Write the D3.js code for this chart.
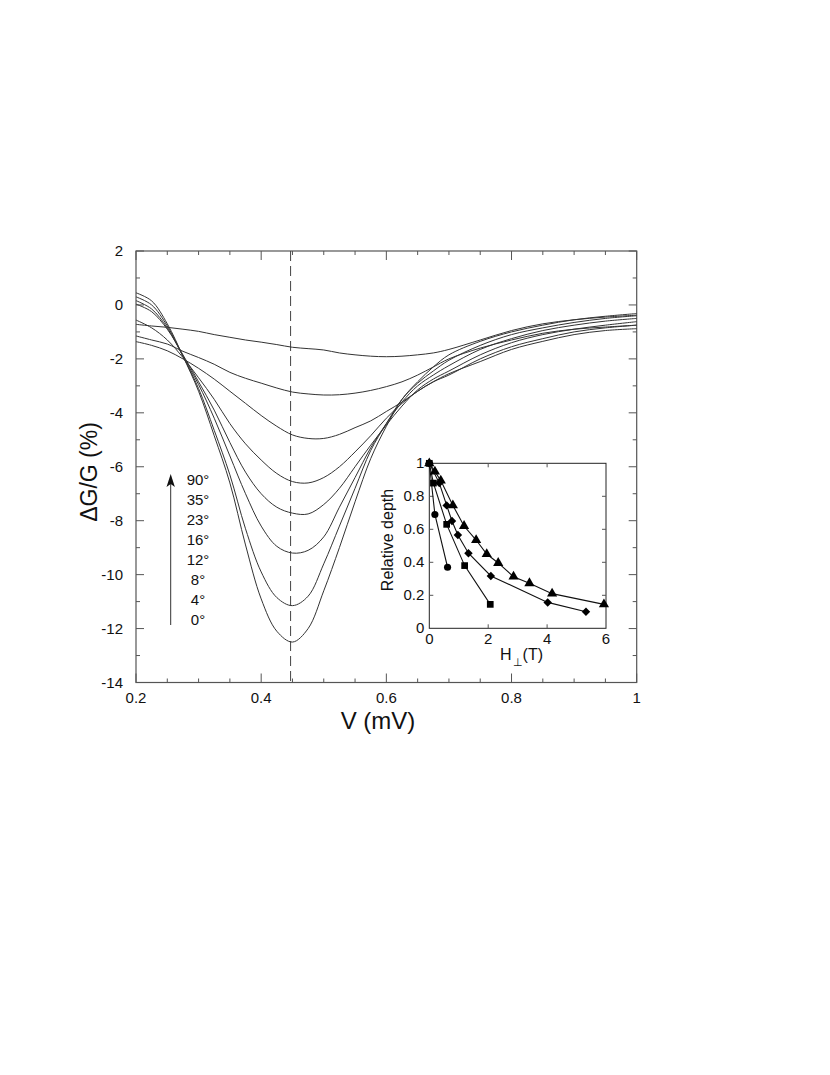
<!DOCTYPE html>
<html>
<head>
<meta charset="utf-8">
<script src="https://cdn.jsdelivr.net/npm/d3@7"></script>
<style>
  body { margin: 0; background: #fff; }
  svg text { font-family: "Liberation Sans", Arial, sans-serif; fill: #111; }
</style>
</head>
<body>
<svg id="chart" width="830" height="1075"></svg>
<script>
// bias voltage samples (mV)
const voltages = [0.2, 0.225, 0.25, 0.275, 0.3, 0.325, 0.35, 0.375, 0.4, 0.425, 0.45, 0.475, 0.5,
  0.525, 0.55, 0.575, 0.6, 0.625, 0.65, 0.675, 0.7, 0.75, 0.8, 0.85, 0.9, 0.95, 1.0];

// dG/G (%) per field angle
const curve0  = [0.45, 0.15, -0.7, -1.9, -3.2, -4.85, -6.6, -8.9, -10.9, -12.1, -12.5, -12.0, -10.6,
  -9.0, -7.3, -5.7, -4.5, -3.5, -2.85, -2.3, -1.85, -1.35, -1.0, -0.75, -0.55, -0.42, -0.32];
const curve4  = [0.3, 0.0, -0.78, -1.9, -3.1, -4.65, -6.3, -8.3, -9.9, -10.85, -11.15, -10.8, -9.6,
  -8.2, -6.8, -5.4, -4.4, -3.5, -2.9, -2.45, -2.05, -1.5, -1.1, -0.85, -0.65, -0.5, -0.4];
const curve8  = [0.16, -0.15, -0.85, -1.9, -2.95, -4.2, -5.6, -7.0, -8.2, -8.95, -9.2, -9.1, -8.6,
  -7.5, -6.4, -5.3, -4.4, -3.6, -3.0, -2.6, -2.25, -1.65, -1.25, -0.95, -0.75, -0.6, -0.5];
const curve12 = [0.03, -0.25, -0.9, -1.85, -2.85, -3.9, -5.1, -6.2, -7.0, -7.5, -7.72, -7.75, -7.4,
  -6.8, -6.0, -5.2, -4.45, -3.75, -3.15, -2.75, -2.45, -1.85, -1.4, -1.1, -0.9, -0.75, -0.62];
const curve16 = [-0.56, -0.85, -1.3, -1.95, -2.7, -3.5, -4.4, -5.15, -5.75, -6.25, -6.55, -6.6, -6.4,
  -6.0, -5.45, -4.85, -4.2, -3.65, -3.2, -2.85, -2.6, -2.0, -1.55, -1.25, -1.0, -0.85, -0.75];
const curve23 = [-1.36, -1.5, -1.7, -2.0, -2.35, -2.75, -3.2, -3.65, -4.1, -4.5, -4.82, -4.95, -4.95,
  -4.8, -4.55, -4.3, -3.95, -3.6, -3.2, -2.85, -2.55, -2.1, -1.65, -1.35, -1.1, -0.95, -0.88];
const curve35 = [-1.15, -1.3, -1.45, -1.72, -1.95, -2.2, -2.5, -2.72, -2.9, -3.08, -3.23, -3.3, -3.34,
  -3.33, -3.27, -3.17, -3.03, -2.85, -2.6, -2.3, -2.0, -1.6, -1.3, -1.05, -0.9, -0.82, -0.75];
const curve90 = [-0.72, -0.78, -0.83, -0.9, -0.98, -1.1, -1.2, -1.3, -1.38, -1.47, -1.57, -1.62, -1.67,
  -1.78, -1.85, -1.9, -1.92, -1.9, -1.85, -1.78, -1.65, -1.3, -0.95, -0.7, -0.55, -0.45, -0.38];

const allCurves = [curve0, curve4, curve8, curve12, curve16, curve23, curve35, curve90];
const angleLabels = ["90°", "35°", "23°", "16°", "12°", "8°", "4°", "0°"];
const dipVoltage = 0.447;

// inset: relative depth vs perpendicular field (T)
const circleH = [0, 0.19, 0.62];
const circleDepth = [1, 0.69, 0.37];
const squareH = [0, 0.14, 0.59, 1.2, 2.07];
const squareDepth = [1, 0.88, 0.63, 0.38, 0.145];
const diamondH = [0, 0.34, 0.59, 0.77, 0.97, 1.33, 2.09, 4.02, 5.32];
const diamondDepth = [1, 0.88, 0.745, 0.65, 0.566, 0.455, 0.317, 0.157, 0.1];
const triangleH = [0, 0.19, 0.39, 0.8, 1.18, 1.59, 1.95, 2.34, 2.86, 3.4, 4.17, 5.93];
const triangleDepth = [1, 0.95, 0.895, 0.745, 0.62, 0.535, 0.45, 0.396, 0.313, 0.273, 0.21, 0.145];

const svg = d3.select("#chart");
const axisColour = "#555";
const lineColour = "#333";

// main plot area
const plotLeft = 136, plotRight = 636.7, plotTop = 251, plotBottom = 682.5;
const x = d3.scaleLinear().domain([0.2, 1]).range([plotLeft, plotRight]);
const y = d3.scaleLinear().domain([-14, 2]).range([plotBottom, plotTop]);

const main = svg.append("g");

// ticks on all four sides, pointing inwards
function drawTicks(g, scale, values, len, orient, pos) {
  values.forEach(function(v) {
    const p = scale(v);
    if (orient === "h") {
      g.append("line").attr("x1", p).attr("x2", p)
        .attr("y1", pos).attr("y2", pos + len)
        .attr("stroke", axisColour).attr("stroke-width", 1);
    } else {
      g.append("line").attr("y1", p).attr("y2", p)
        .attr("x1", pos).attr("x2", pos + len)
        .attr("stroke", axisColour).attr("stroke-width", 1);
    }
  });
}

const xMajor = [0.2, 0.4, 0.6, 0.8, 1];
const xMinor = [0.25, 0.3, 0.35, 0.45, 0.5, 0.55, 0.65, 0.7, 0.75, 0.85, 0.9, 0.95];
const yMajor = [-14, -12, -10, -8, -6, -4, -2, 0, 2];
const yMinor = [-13, -11, -9, -7, -5, -3, -1, 1];

drawTicks(main, x, xMajor, -9, "h", plotBottom);
drawTicks(main, x, xMinor, -4, "h", plotBottom);
drawTicks(main, x, xMajor, 9, "h", plotTop);
drawTicks(main, x, xMinor, 4, "h", plotTop);
drawTicks(main, y, yMajor, 8, "v", plotLeft);
drawTicks(main, y, yMinor, 4, "v", plotLeft);
drawTicks(main, y, yMajor, -8, "v", plotRight);
drawTicks(main, y, yMinor, -4, "v", plotRight);

main.append("rect")
  .attr("x", plotLeft).attr("y", plotTop)
  .attr("width", plotRight - plotLeft).attr("height", plotBottom - plotTop)
  .attr("fill", "none").attr("stroke", axisColour).attr("stroke-width", 1.2);

// tick labels (plain hyphen minus, as in the original)
main.selectAll(".xlab").data(xMajor).enter().append("text")
  .attr("x", d => x(d)).attr("y", plotBottom + 20)
  .attr("text-anchor", "middle").attr("font-size", 15)
  .text(d => String(d));

main.selectAll(".ylab").data(yMajor).enter().append("text")
  .attr("x", plotLeft - 13).attr("y", d => y(d) + 5)
  .attr("text-anchor", "end").attr("font-size", 15)
  .text(d => String(d));

// axis titles
main.append("text")
  .attr("x", 378).attr("y", 729)
  .attr("text-anchor", "middle").attr("font-size", 24)
  .text("V (mV)");

main.append("text")
  .attr("transform", "translate(97,472) rotate(-90)")
  .attr("text-anchor", "middle").attr("font-size", 23)
  .text("ΔG/G (%)");

// dashed marker at the dip position
main.append("line")
  .attr("x1", x(dipVoltage)).attr("x2", x(dipVoltage))
  .attr("y1", plotTop).attr("y2", plotBottom)
  .attr("stroke", "#444").attr("stroke-width", 1)
  .attr("stroke-dasharray", "10,5");

// conductance curves
const line = d3.line()
  .curve(d3.curveCatmullRom.alpha(0.5))
  .x((d, i) => x(voltages[i]))
  .y(d => y(d));

main.selectAll(".curve").data(allCurves).enter().append("path")
  .attr("d", d => line(d))
  .attr("fill", "none")
  .attr("stroke", lineColour)
  .attr("stroke-width", 1);

// angle legend with arrow
const labelY = d3.scaleLinear().domain([0, angleLabels.length - 1]).range([480, 620]);
main.selectAll(".angle").data(angleLabels).enter().append("text")
  .attr("x", 198).attr("y", (d, i) => labelY(i) + 5)
  .attr("text-anchor", "middle").attr("font-size", 15)
  .text(d => d);

main.append("line")
  .attr("x1", 170.7).attr("x2", 170.7)
  .attr("y1", 625).attr("y2", 484)
  .attr("stroke", "#333").attr("stroke-width", 1);
main.append("path")
  .attr("d", "M170.7,474 L166.5,487 L170.7,484 L174.9,487 Z")
  .attr("fill", "#111");

// inset
const iLeft = 429.3, iRight = 606, iTop = 463.3, iBottom = 628.3;
const ix = d3.scaleLinear().domain([0, 6]).range([iLeft, iRight]);
const iy = d3.scaleLinear().domain([0, 1]).range([iBottom, iTop]);
const inset = svg.append("g");

inset.append("rect")
  .attr("x", iLeft).attr("y", iTop)
  .attr("width", iRight - iLeft).attr("height", iBottom - iTop)
  .attr("fill", "#fff").attr("stroke", "#222").attr("stroke-width", 1);

const ixTicks = [0, 2, 4, 6];
const iyTicks = [0, 0.2, 0.4, 0.6, 0.8, 1];
drawTicks(inset, ix, [2, 4], -4, "h", iBottom);
drawTicks(inset, ix, [2, 4], 4, "h", iTop);
drawTicks(inset, iy, [0.2, 0.4, 0.6, 0.8], 4, "v", iLeft);
drawTicks(inset, iy, [0.2, 0.4, 0.6, 0.8], -4, "v", iRight);

inset.selectAll(".ixlab").data(ixTicks).enter().append("text")
  .attr("x", d => ix(d)).attr("y", iBottom + 16)
  .attr("text-anchor", "middle").attr("font-size", 15)
  .text(d => String(d));

inset.selectAll(".iylab").data(iyTicks).enter().append("text")
  .attr("x", iLeft - 5).attr("y", d => iy(d) + 5)
  .attr("text-anchor", "end").attr("font-size", 15)
  .text(d => String(d));

inset.append("text")
  .attr("transform", "translate(393,540) rotate(-90)")
  .attr("text-anchor", "middle").attr("font-size", 16)
  .text("Relative depth");

const hLabel = inset.append("text")
  .attr("x", 500).attr("y", 660).attr("font-size", 16);
hLabel.append("tspan").text("H");
hLabel.append("tspan").attr("font-size", 11).attr("dy", 6).attr("dx", 1).text("⊥");
hLabel.append("tspan").attr("dy", -6).text("(T)");

// diamonds are drawn as squares turned by 45 degrees
const insetSeries = [
  { h: circleH, d: circleDepth, symbol: d3.symbolCircle, size: 40, turn: 0 },
  { h: squareH, d: squareDepth, symbol: d3.symbolSquare, size: 45, turn: 0 },
  { h: diamondH, d: diamondDepth, symbol: d3.symbolSquare, size: 36, turn: 45 },
  { h: triangleH, d: triangleDepth, symbol: d3.symbolTriangle, size: 45, turn: 0 }
];

const insetLine = d3.line().x(d => ix(d[0])).y(d => iy(d[1]));

insetSeries.forEach(function(s) {
  const pts = s.h.map((h, i) => [h, s.d[i]]);
  inset.append("path")
    .attr("d", insetLine(pts))
    .attr("fill", "none").attr("stroke", "#111").attr("stroke-width", 1.1);
  inset.selectAll(null).data(pts).enter().append("path")
    .attr("transform", d => "translate(" + ix(d[0]) + "," + iy(d[1]) + ") rotate(" + s.turn + ")")
    .attr("d", d3.symbol().type(s.symbol).size(s.size))
    .attr("fill", "#000");
});
</script>
</body>
</html>
